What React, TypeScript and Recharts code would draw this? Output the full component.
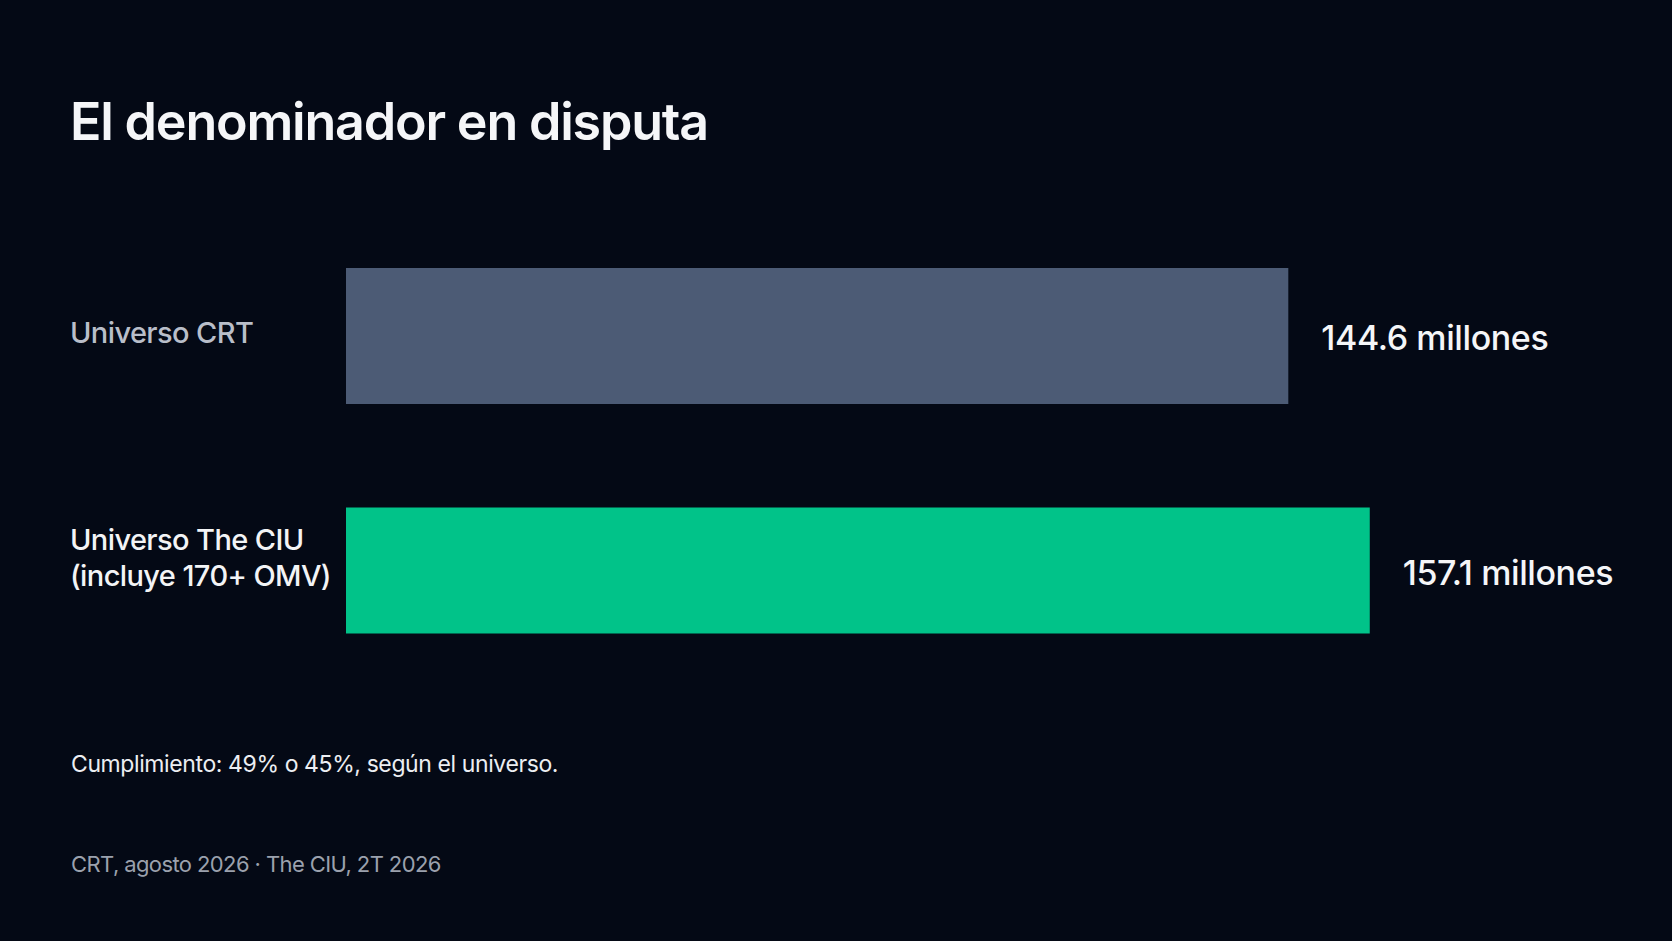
import { BarChart, Bar, XAxis, YAxis, Cell, LabelList, Rectangle } from 'recharts';

const categories = ['Universo CRT', 'Universo The CIU\n(incluye 170+ OMV)'];
const values = [144.6, 157.1];
const valueUnit = 'millones';
const titleText = 'El denominador en disputa';
const noteText = 'Cumplimiento: 49% o 45%, según el universo.';
const sourceText = 'CRT, agosto 2026 · The CIU, 2T 2026';

const data = categories.map((name, i) => ({ name, value: values[i] }));

const barColors = ['#4c5b75', '#01c389'];
const labelColors = ['#b9bec9', '#f3f4f6'];
const barInset = [0, 5];
const FONT = 'Inter, "Noto Sans", sans-serif';

const CategoryTick = (props: any) => {
  const { y, payload, index } = props;
  const lines = String(payload.value).split('\n');
  const first = y + 7 - (lines.length - 1) * 28;
  return (
    <text x={70} y={first} fill={labelColors[index] ?? '#fff'} fontSize={29} fontFamily={FONT} fontWeight={500} letterSpacing={-0.6}>
      {lines.map((line, i) => (
        <tspan key={i} x={70} y={first + i * 36.5}>{line}</tspan>
      ))}
    </text>
  );
};

const InsetBar = (props: any) => {
  const inset = barInset[props.index] ?? 0;
  return <Rectangle {...props} y={props.y + inset} height={props.height - inset * 2} />;
};

export default function App() {
  return (
    <div style={{ position: 'relative', width: 1672, height: 941, background: '#040915', overflow: 'hidden' }}>
      <style>{`body{margin:0;background:#040915}`}</style>
      <BarChart
        width={1672}
        height={941}
        data={data}
        layout="vertical"
        margin={{ top: 219, right: 153, bottom: 253, left: 0 }}
        barSize={136}
      >
        <XAxis type="number" domain={[0, 180]} hide />
        <YAxis type="category" dataKey="name" width={346} axisLine={false} tickLine={false} tick={<CategoryTick />} interval={0} />
        <Bar dataKey="value" isAnimationActive={false} shape={<InsetBar />}>
          {data.map((d, i) => (
            <Cell key={d.name} fill={barColors[i]} />
          ))}
          <LabelList
            dataKey="value"
            position="right"
            offset={33}
            formatter={(v: any) => `${v} ${valueUnit}`}
            content={(p: any) => (
              <text x={p.x + p.width + 33} y={p.y + p.height / 2 + 14} fill="#f5f6f8" fontSize={34} fontFamily={FONT} fontWeight={500} letterSpacing={-0.4}>
                {`${p.value} ${valueUnit}`}
              </text>
            )}
          />
        </Bar>
      </BarChart>
      <svg width={1672} height={941} style={{ position: 'absolute', left: 0, top: 0, pointerEvents: 'none' }}>
        <text x={70} y={140} fill="#f5f6f8" fontSize={52} fontWeight={600} fontFamily={FONT} letterSpacing={-1.2}>{titleText}</text>
        <text x={71} y={772} fill="#eceef2" fontSize={23} fontFamily={FONT} letterSpacing={-0.4}>{noteText}</text>
        <text x={71} y={872} fill="#9ba1ad" fontSize={22} fontFamily={FONT} letterSpacing={-0.6}>{sourceText}</text>
      </svg>
    </div>
  );
}
